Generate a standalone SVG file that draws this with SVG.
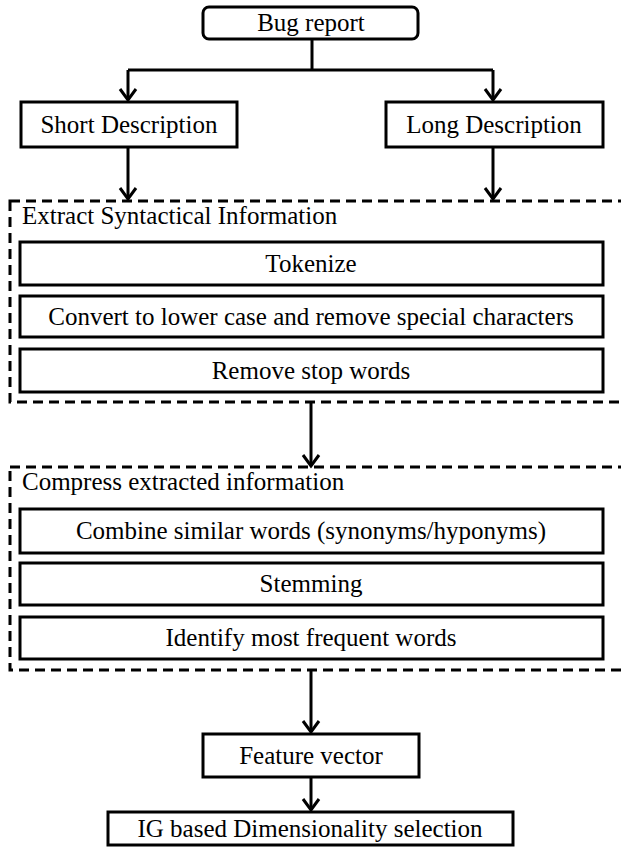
<svg xmlns="http://www.w3.org/2000/svg" width="621" height="855" viewBox="0 0 621 855" font-family="'Liberation Serif', 'Times New Roman', serif" font-size="25">
<style>
  .box { fill: #ffffff; stroke: #000000; stroke-width: 3; }
  .group { fill: none; stroke: #000000; stroke-width: 3; stroke-dasharray: 10 6; }
  .lbl { text-anchor: middle; }
  .conn { fill: none; stroke: #000000; stroke-width: 3; }
</style>
<defs>
  <marker id="arr" viewBox="0 0 20 20" refX="17" refY="10" markerWidth="20" markerHeight="20" markerUnits="userSpaceOnUse" orient="auto">
    <path d="M6,2 L17,10 L6,18" fill="none" stroke="#000000" stroke-width="3"/>
  </marker>
</defs>
<rect width="621" height="855" fill="#ffffff"/>

<g id="extract-group">
  <rect class="group" x="10" y="201" width="620" height="201"/>
  <text x="22" y="224">Extract Syntactical Information</text>
</g>
<g id="compress-group">
  <rect class="group" x="10" y="467" width="620" height="203"/>
  <text x="22" y="490">Compress extracted information</text>
</g>

<g id="connectors">
  <path class="conn" d="M312,39 V70"/>
  <path class="conn" d="M128,70 H493"/>
  <path class="conn" d="M128,70 V100" marker-end="url(#arr)"/>
  <path class="conn" d="M493,70 V100" marker-end="url(#arr)"/>
  <path class="conn" d="M128,147 V199" marker-end="url(#arr)"/>
  <path class="conn" d="M493,147 V199" marker-end="url(#arr)"/>
  <path class="conn" d="M311,402 V466" marker-end="url(#arr)"/>
  <path class="conn" d="M311,670 V732" marker-end="url(#arr)"/>
  <path class="conn" d="M311,777 V810" marker-end="url(#arr)"/>
</g>

<g id="bug-report">
  <rect class="box" x="203" y="7" width="215" height="32" rx="6"/>
  <text class="lbl" x="311" y="31">Bug report</text>
</g>
<g id="short-description">
  <rect class="box" x="21" y="102" width="216" height="45"/>
  <text class="lbl" x="129" y="133">Short Description</text>
</g>
<g id="long-description">
  <rect class="box" x="386" y="102" width="217" height="45"/>
  <text class="lbl" x="494" y="133">Long Description</text>
</g>
<g id="tokenize">
  <rect class="box" x="20" y="242" width="583" height="43"/>
  <text class="lbl" x="311" y="272">Tokenize</text>
</g>
<g id="convert">
  <rect class="box" x="20" y="296" width="583" height="41"/>
  <text class="lbl" x="311" y="325">Convert to lower case and remove special characters</text>
</g>
<g id="remove-stop">
  <rect class="box" x="20" y="349" width="583" height="43"/>
  <text class="lbl" x="311" y="379">Remove stop words</text>
</g>
<g id="combine">
  <rect class="box" x="20" y="509" width="583" height="44"/>
  <text class="lbl" x="311" y="539">Combine similar words (synonyms/hyponyms)</text>
</g>
<g id="stemming">
  <rect class="box" x="20" y="563" width="583" height="42"/>
  <text class="lbl" x="311" y="592">Stemming</text>
</g>
<g id="identify">
  <rect class="box" x="20" y="617" width="583" height="42"/>
  <text class="lbl" x="311" y="646">Identify most frequent words</text>
</g>
<g id="feature-vector">
  <rect class="box" x="203" y="734" width="216" height="43"/>
  <text class="lbl" x="311" y="764">Feature vector</text>
</g>
<g id="ig-selection">
  <rect class="box" x="108" y="812" width="405" height="33"/>
  <text class="lbl" x="310" y="837">IG based Dimensionality selection</text>
</g>
</svg>
